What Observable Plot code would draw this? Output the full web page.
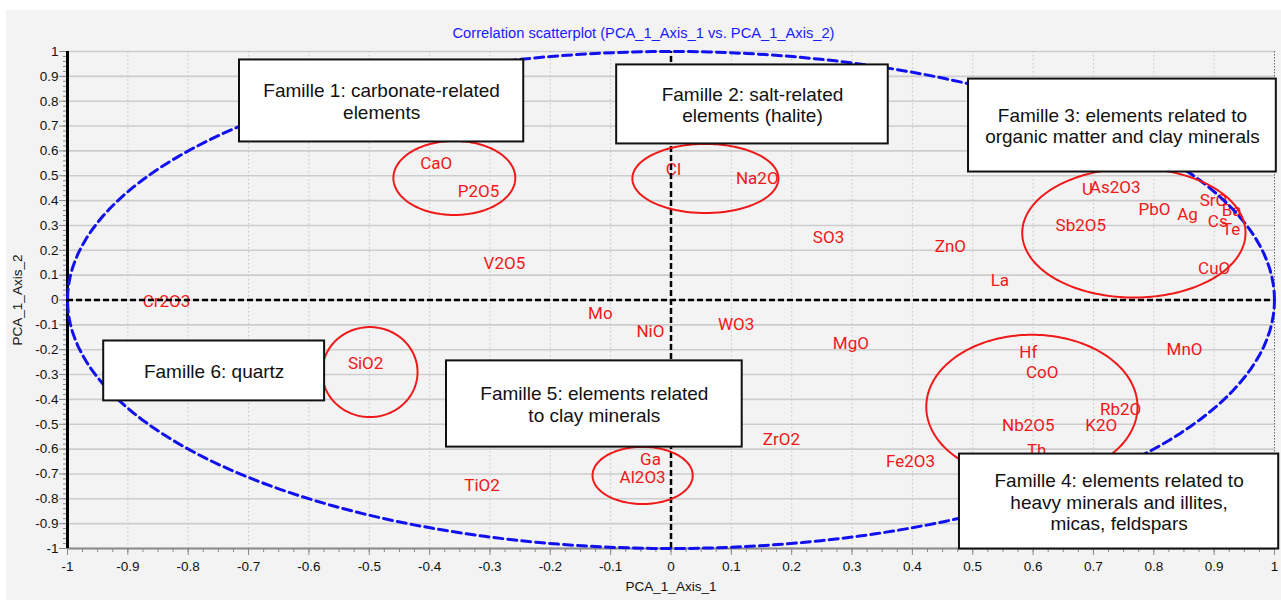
<!DOCTYPE html>
<html>
<head>
<meta charset="utf-8">
<script src="https://cdn.jsdelivr.net/npm/d3@7"></script>
<script src="https://cdn.jsdelivr.net/npm/@observablehq/plot@0.6"></script>
<style>
  html, body { margin: 0; padding: 0; background: #ffffff; }
  #wrap { margin: 10px 0 0 6px; width: 1275px; height: 590px; background: #f3f3f3; overflow: hidden; }
  #title { height: 31px; line-height: 46px; text-align: center; font-family: "Liberation Sans", Arial, sans-serif; font-size: 14.7px; color: #1a1aff; }
  #chart svg { display: block; }
</style>
</head>
<body>
<div id="wrap">
  <div id="title">Correlation scatterplot (PCA_1_Axis_1 vs. PCA_1_Axis_2)</div>
  <div id="chart"></div>
</div>
<script>
// Variables (labels) and their coordinates on the two PCA axes
const variables = ["CaO","P2O5","Cl","Na2O","SO3","V2O5","ZnO","La","U","As2O3","Sb2O5","PbO","Ag","SrO","Ba","Cs","Te","CuO","Cr2O3","Mo","NiO","WO3","MgO","SiO2","Ga","Al2O3","TiO2","ZrO2","Fe2O3","Hf","CoO","Rb2O","Nb2O5","K2O","Th","MnO"];
const axis1 = [-0.389,-0.319,0.004,0.143,0.261,-0.276,0.463,0.545,0.690,0.736,0.679,0.801,0.856,0.899,0.929,0.906,0.928,0.900,-0.836,-0.117,-0.034,0.108,0.298,-0.506,-0.034,-0.047,-0.313,0.183,0.397,0.592,0.615,0.745,0.592,0.713,0.606,0.851];
const axis2 = [0.551,0.435,0.523,0.490,0.253,0.145,0.217,0.080,0.443,0.451,0.298,0.366,0.342,0.402,0.358,0.314,0.285,0.125,-0.005,-0.054,-0.128,-0.097,-0.174,-0.254,-0.641,-0.713,-0.745,-0.563,-0.652,-0.213,-0.293,-0.439,-0.507,-0.507,-0.604,-0.198];

// Tick values
const majorTicks = [-1,-0.9,-0.8,-0.7,-0.6,-0.5,-0.4,-0.3,-0.2,-0.1,0,0.1,0.2,0.3,0.4,0.5,0.6,0.7,0.8,0.9,1];
const minorTicksY = d3.range(-50, 51).map(i => i / 50);
const minorTicksX = d3.range(-40, 41).map(i => i / 40);

// Family annotation boxes (data units)
const boxText = [
  "Famille 1: carbonate-related\nelements",
  "Famille 2: salt-related\nelements (halite)",
  "Famille 3: elements related to\norganic matter and clay minerals",
  "Famille 4: elements related to\nheavy minerals and illites,\nmicas, feldspars",
  "Famille 5: elements related\nto clay minerals",
  "Famille 6: quartz"
];
const boxX1 = [-0.715,-0.090,0.493,0.478,-0.372,-0.940];
const boxX2 = [-0.244,0.360,1.003,1.007,0.118,-0.574];
const boxY1 = [0.966,0.946,0.889,-0.620,-0.245,-0.165];
const boxY2 = [0.636,0.628,0.515,-1.002,-0.592,-0.406];

// Family ellipses (data units)
const ellipseCx = [-0.359,0.057,0.767,0.598,-0.499,-0.047];
const ellipseCy = [0.491,0.489,0.270,-0.430,-0.290,-0.706];
const ellipseRx = [0.101,0.121,0.185,0.175,0.079,0.083];
const ellipseRy = [0.149,0.139,0.260,0.290,0.181,0.115];

// Build tables
const points = variables.map((name, i) => ({name, x: axis1[i], y: axis2[i]}));
const boxes = boxText.map((t, i) => ({text: t, x1: boxX1[i], x2: boxX2[i], y1: boxY1[i], y2: boxY2[i]}));
const angles = d3.range(0, 201).map(i => i / 200 * 2 * Math.PI);
const ellipsePts = ellipseCx.flatMap((cx, k) => angles.map(t => ({g: k, x: cx + ellipseRx[k] * Math.cos(t), y: ellipseCy[k] + ellipseRy[k] * Math.sin(t)})));
const circlePts = angles.map(t => ({x: Math.cos(t), y: Math.sin(t)}));

const fmt = d => { const v = +(+d).toFixed(1); return String(v === 0 ? 0 : v); };
const RED = "#f01818";
const BLUE = "#1010f0";

const chart = Plot.plot({
  width: 1275,
  height: 559,
  marginLeft: 61,
  marginRight: 7,
  marginTop: 10,
  marginBottom: 52,
  x: {domain: [-1, 1]},
  y: {domain: [-1, 1]},
  style: {background: "transparent", fontFamily: "'Liberation Sans', Arial, sans-serif", overflow: "visible"},
  marks: [
    // grid
    Plot.ruleY(majorTicks, {stroke: "#cdcdcd", strokeWidth: 1.6}),
    Plot.ruleX(majorTicks.filter(d => d > -1 && d < 1), {stroke: "#c4c4c4", strokeWidth: 1, strokeDasharray: "1.5,2.5"}),
    Plot.ruleX([1], {stroke: "#666", strokeWidth: 1, strokeDasharray: "1.5,1.5"}),
    // axes
    Plot.axisX(minorTicksX, {tickSize: 4, stroke: "#8a8a8a", fill: "none"}),
    Plot.axisY(minorTicksY, {tickSize: 4, stroke: "#8a8a8a", fill: "none"}),
    Plot.axisX(majorTicks, {tickSize: 7, tickPadding: 6, tickFormat: fmt, fontSize: 13.5, stroke: "#8a8a8a", fill: "#111",
      label: "PCA_1_Axis_1", labelAnchor: "center", labelOffset: 42, labelArrow: "none"}),
    Plot.axisY(majorTicks, {tickSize: 8, tickPadding: 1, tickFormat: fmt, fontSize: 13.5, stroke: "#8a8a8a", fill: "#111",
      label: "PCA_1_Axis_2", labelAnchor: "center", labelOffset: 55, labelArrow: "none"}),
    Plot.ruleY([-1], {stroke: "#8a8a8a", strokeWidth: 2}),
    Plot.ruleX([-1], {y1: -1, y2: 1, stroke: "#000", strokeWidth: 3}),
    // variable labels
    Plot.text(points, {x: "x", y: "y", text: "name", fill: RED, fontSize: 17, fontFamily: "Roboto, 'DejaVu Sans', sans-serif"}),
    // zero lines
    Plot.ruleY([0], {x1: -1, x2: 1, stroke: "#000", strokeWidth: 2.5, strokeDasharray: "6,3"}),
    Plot.ruleX([0], {y1: -1, y2: 1, stroke: "#000", strokeWidth: 2.5, strokeDasharray: "6,3"}),
    // correlation circle
    Plot.line(circlePts, {x: "x", y: "y", stroke: BLUE, strokeWidth: 3, strokeDasharray: "9,5", curve: "linear"}),
    // family ellipses
    Plot.line(ellipsePts, {x: "x", y: "y", z: "g", stroke: RED, strokeWidth: 2}),
    // family boxes
    Plot.rect(boxes, {x1: "x1", x2: "x2", y1: "y1", y2: "y2", fill: "#fff", stroke: "#111", strokeWidth: 2}),
    Plot.text(boxes, {x: d => (d.x1 + d.x2) / 2, y: d => (d.y1 + d.y2) / 2, text: "text", fill: "#111", fontSize: 19, lineHeight: 1.15})
  ]
});
document.getElementById("chart").appendChild(chart);
</script>
</body>
</html>
